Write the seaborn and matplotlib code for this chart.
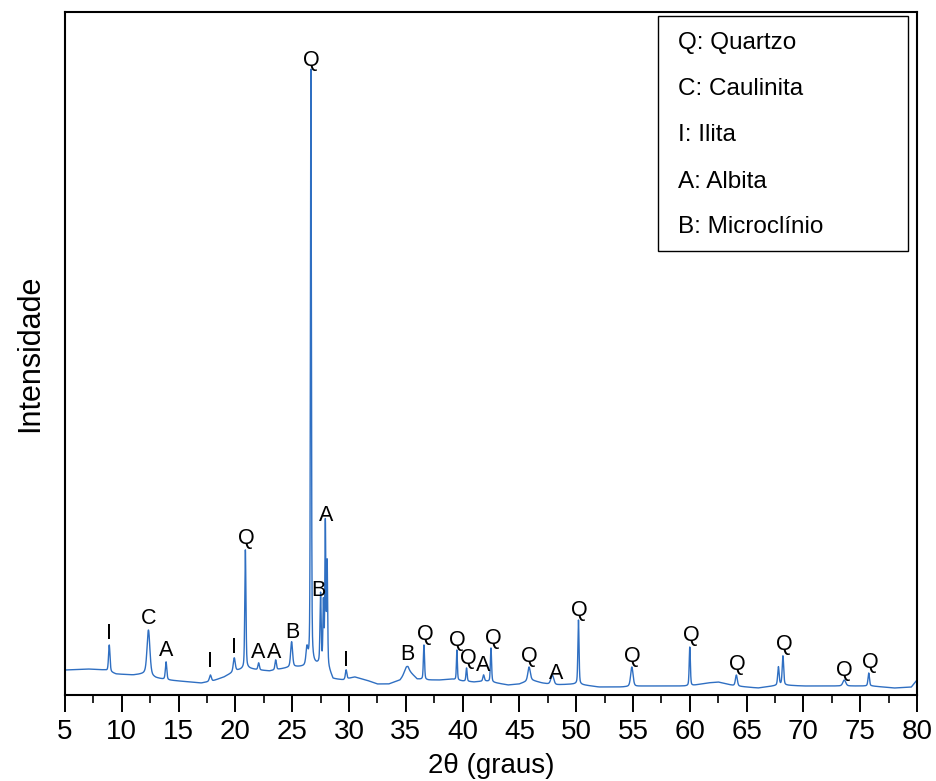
import numpy as np
import pandas as pd
import matplotlib
matplotlib.use("Agg")
import matplotlib.pyplot as plt
from matplotlib.patches import Rectangle
from matplotlib.ticker import MultipleLocator
import seaborn as sns

# Background level of the diffractogram (2θ, intensity a.u.)
bg_2theta = [5, 7, 8.5, 9.5, 11, 12, 13, 14, 15, 16, 17, 18, 19, 20, 21, 22,
             23, 24, 25, 26, 27, 28, 28.6, 29.5, 30.5, 31.5, 32.5, 33.5, 34.5,
             35.2, 36, 37, 38, 39, 40, 41, 42, 43, 44, 45, 46, 47, 48, 50, 52,
             54, 56, 58, 60, 61.5, 62.5, 64, 66, 68, 70, 72, 74, 76, 78, 79.5, 80]
bg_level = [25, 26, 25, 21, 20, 21, 17, 15, 14, 13, 12, 14, 18, 24, 27, 25,
            24, 26, 28, 28, 30, 31, 16, 15, 18, 15, 11, 11, 15,
            25, 16, 15, 15, 16, 14, 13, 14, 12, 10, 11, 15, 12, 10, 11, 8,
            8, 9, 9, 9, 12, 13, 9, 7, 10, 9, 9, 9, 9, 7, 8, 15]

# Reflections: position (2θ), apex intensity (a.u.), FWHM (degrees)
peak_2theta = [8.9, 12.35, 13.9, 17.8, 19.9, 20.88, 22.05, 23.55, 24.95,
               26.3, 26.65, 27.5, 27.75, 27.92, 28.08, 29.75, 35.05, 36.6,
               39.5, 40.35, 41.85, 42.5, 45.85, 47.9, 50.2, 54.9, 60.0,
               64.1, 67.8, 68.2, 73.6, 75.75]
peak_apex = [50, 65, 33, 20, 37, 145, 32, 35, 53,
             45, 625, 100, 90, 170, 130, 25, 28, 50,
             45, 27, 20, 47, 28, 20, 75, 28, 48,
             20, 28, 39, 15, 22]
peak_fwhm = [0.15, 0.3, 0.15, 0.2, 0.2, 0.12, 0.15, 0.15, 0.2,
             0.2, 0.1, 0.12, 0.1, 0.1, 0.1, 0.15, 0.4, 0.12,
             0.1, 0.12, 0.15, 0.12, 0.25, 0.3, 0.12, 0.25, 0.12,
             0.2, 0.15, 0.15, 0.3, 0.15]

# Phase labels above the reflections
label_text = ["I", "C", "A", "I", "I", "Q", "A", "A", "B", "Q", "B", "A", "I",
              "B", "Q", "Q", "Q", "A", "Q", "Q", "A", "Q", "Q", "Q", "Q", "Q",
              "Q", "Q"]
label_2theta = [8.9, 12.35, 13.9, 17.8, 19.9, 20.95, 22.0, 23.45, 25.0, 26.7,
                27.3, 27.95, 29.7, 35.1, 36.7, 39.5, 40.5, 41.8, 42.7, 45.9,
                48.2, 50.3, 54.9, 60.1, 64.2, 68.3, 73.6, 75.9]
label_level = [62, 77, 45, 34, 48, 157, 43, 43, 63, 635,
               105, 180, 35, 41, 61, 55, 37, 30, 57, 39,
               22, 85, 39, 60, 31, 51, 25, 33]

legend_entries = ["Q: Quartzo", "C: Caulinita", "I: Ilita", "A: Albita",
                  "B: Microclínio"]

# Build the pattern on a fine 2θ grid
two_theta = np.arange(5.0, 80.0001, 0.01)
background = np.interp(two_theta, bg_2theta, bg_level)
intensity = background.copy()
for pos, apex, w in zip(peak_2theta, peak_apex, peak_fwhm):
    amp = apex - np.interp(pos, bg_2theta, bg_level)
    hw = w / 2.0
    gauss = np.exp(-np.log(2) * ((two_theta - pos) / hw) ** 2)
    lorentz = 1.0 / (1.0 + ((two_theta - pos) / hw) ** 2)
    intensity += amp * (0.6 * gauss + 0.4 * lorentz)

df = pd.DataFrame({"2theta": two_theta, "I": intensity})

sns.set_style("ticks")
plt.rcParams["font.family"] = ["Liberation Sans", "DejaVu Sans"]
plt.rcParams["text.color"] = "black"
plt.rcParams["axes.labelcolor"] = "black"

fig = plt.figure(figsize=(9.36, 7.81), dpi=100)
ax = fig.add_axes([0.0694, 0.1101, 0.9103, 0.8745])

sns.lineplot(data=df, x="2theta", y="I", ax=ax, color="#2f6fc2",
             linewidth=1.0, estimator=None)

ax.set_xlim(5, 80)
ax.set_ylim(0, 683)
ax.xaxis.set_major_locator(MultipleLocator(5))
ax.xaxis.set_minor_locator(MultipleLocator(2.5))
ax.set_yticks([])
ax.tick_params(axis="x", which="major", direction="out", length=12,
               width=1.4, labelsize=20, pad=5, colors="black")
ax.tick_params(axis="x", which="minor", direction="out", length=6,
               width=1.4)
for sp in ax.spines.values():
    sp.set_linewidth(1.5)
    sp.set_color("black")

ax.set_xlabel("2θ (graus)", fontsize=20, labelpad=6)
ax.set_ylabel("Intensidade", fontsize=22, labelpad=14)

for t, x, y in zip(label_text, label_2theta, label_level):
    ax.text(x, y, t, ha="center", va="center", fontsize=15.5, color="black")

# Phase key box
ax.add_patch(Rectangle((0.696, 0.650), 0.2934, 0.344, transform=ax.transAxes,
                       fill=False, edgecolor="black", linewidth=1.0))
rows_y = [0.9546, 0.887, 0.820, 0.751, 0.685]
for txt, y in zip(legend_entries, rows_y):
    ax.text(0.7195, y, txt, transform=ax.transAxes, ha="left", va="center",
            fontsize=17.5, color="black")

fig.savefig("out.png", dpi=100)
